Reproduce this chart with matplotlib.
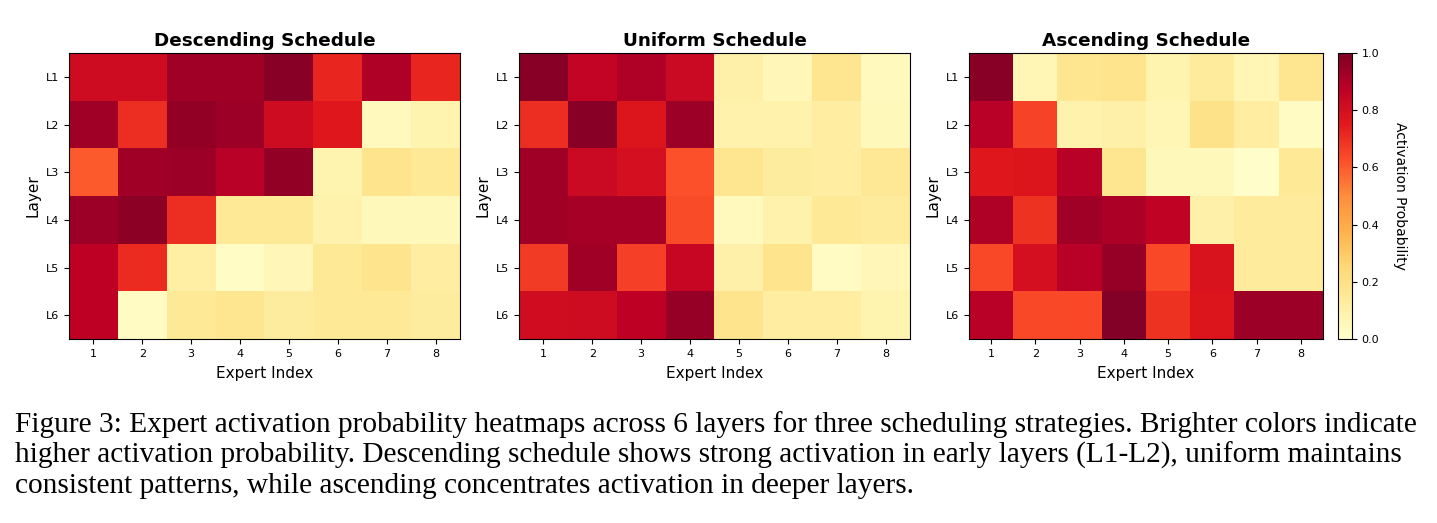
import numpy as np
import matplotlib
matplotlib.use('Agg')
import matplotlib.pyplot as plt

# Data: activation probability per layer (rows) and expert (columns)
layers = ["L1", "L2", "L3", "L4", "L5", "L6"]
experts = [1, 2, 3, 4, 5, 6, 7, 8]
titles = ["Descending Schedule", "Uniform Schedule", "Ascending Schedule"]

descending = [
    [0.82, 0.82, 0.93, 0.93, 0.98, 0.72, 0.90, 0.72],
    [0.93, 0.70, 0.96, 0.94, 0.82, 0.76, 0.04, 0.08],
    [0.60, 0.93, 0.94, 0.88, 0.96, 0.08, 0.18, 0.15],
    [0.94, 0.97, 0.70, 0.15, 0.15, 0.09, 0.05, 0.05],
    [0.87, 0.71, 0.11, 0.02, 0.06, 0.15, 0.18, 0.12],
    [0.87, 0.03, 0.15, 0.17, 0.13, 0.15, 0.15, 0.13],
]
uniform = [
    [0.98, 0.85, 0.90, 0.83, 0.10, 0.06, 0.17, 0.04],
    [0.70, 0.98, 0.77, 0.94, 0.09, 0.09, 0.12, 0.05],
    [0.93, 0.83, 0.80, 0.62, 0.17, 0.13, 0.12, 0.16],
    [0.93, 0.92, 0.92, 0.63, 0.04, 0.09, 0.15, 0.14],
    [0.67, 0.93, 0.66, 0.84, 0.10, 0.18, 0.03, 0.06],
    [0.81, 0.82, 0.87, 0.95, 0.18, 0.12, 0.12, 0.08],
]
ascending = [
    [0.98, 0.07, 0.17, 0.18, 0.08, 0.14, 0.07, 0.17],
    [0.88, 0.65, 0.09, 0.10, 0.07, 0.19, 0.12, 0.03],
    [0.76, 0.77, 0.88, 0.17, 0.05, 0.05, 0.01, 0.15],
    [0.90, 0.69, 0.93, 0.91, 0.86, 0.10, 0.14, 0.14],
    [0.64, 0.80, 0.88, 0.95, 0.64, 0.78, 0.14, 0.14],
    [0.88, 0.64, 0.64, 0.99, 0.69, 0.77, 0.94, 0.94],
]

caption_lines = [
    "Figure 3: Expert activation probability heatmaps across 6 layers for three scheduling strategies. Brighter colors indicate",
    "higher activation probability. Descending schedule shows strong activation in early layers (L1-L2), uniform maintains",
    "consistent patterns, while ascending concentrates activation in deeper layers.",
]

W, H = 1437, 523
fig = plt.figure(figsize=(W / 100, H / 100), dpi=100)

# axes boxes in pixels (left, right)
boxes = [(69, 460), (519, 910), (969, 1323)]
top, bottom = 53, 339

im = None
for (x0, x1), title, data in zip(boxes, titles, [descending, uniform, ascending]):
    ax = fig.add_axes([x0 / W, 1 - bottom / H, (x1 - x0) / W, (bottom - top) / H])
    im = ax.imshow(np.array(data), cmap='YlOrRd', vmin=0, vmax=1, aspect='auto')
    ax.set_xticks(range(len(experts)))
    ax.set_xticklabels([str(e) for e in experts], fontsize=8)
    ax.set_yticks(range(len(layers)))
    ax.set_yticklabels(layers, fontsize=8)
    ax.set_xlabel("Expert Index", fontsize=11, labelpad=5)
    ax.set_ylabel("Layer", fontsize=11)
    ax.set_title(title, fontsize=13.2, fontweight='bold', pad=5)

cax = fig.add_axes([1338 / W, 1 - bottom / H, 14 / W, (bottom - top) / H])
cb = fig.colorbar(im, cax=cax)
cb.set_ticks([0.0, 0.2, 0.4, 0.6, 0.8, 1.0])
cb.ax.tick_params(labelsize=8)
cb.set_label("Activation Probability", fontsize=10, rotation=270, labelpad=20)

# caption
for i, line in enumerate(caption_lines):
    fig.text(15 / W, 1 - (425 + 30.5 * i) / H, line, ha='left', va='center',
             fontsize=21.2, family='Liberation Serif')

fig.savefig("out.png", dpi=100)
plt.close(fig)
